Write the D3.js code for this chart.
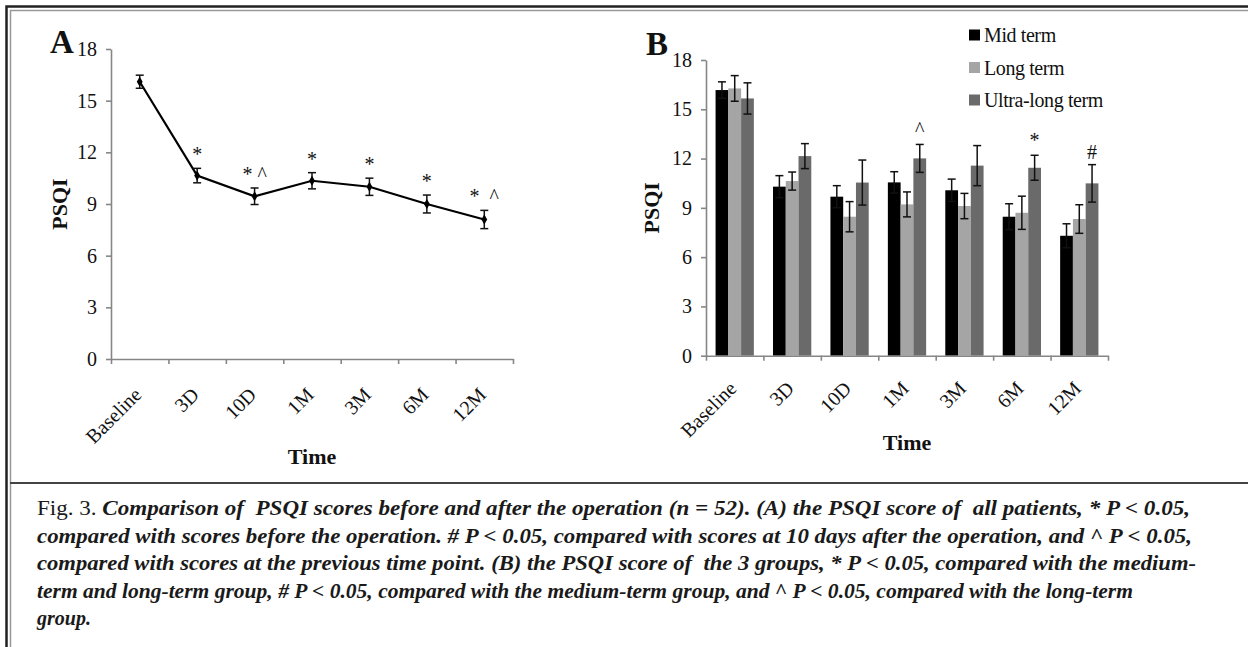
<!DOCTYPE html>
<html>
<head>
<meta charset="utf-8">
<script src="https://cdn.jsdelivr.net/npm/d3@7"></script>
<style>
  html, body { margin: 0; padding: 0; background: #fff; }
  svg { display: block; font-family: "Liberation Serif", "Times New Roman", serif; }
  .axis path, .axis line { stroke: #868686; stroke-width: 1.6; }
  .axis text { font-size: 20px; fill: #111; font-family: "Liberation Serif", serif; }
</style>
</head>
<body>
<svg id="fig" width="1248" height="647"></svg>
<script>
// PSQI scores, fig 3 (A: all patients, B: by group)

const times = ['Baseline', '3D', '10D', '1M', '3M', '6M', '12M'];
const yTicks = [0, 3, 6, 9, 12, 15, 18];

// panel A
const allMean = [16.1, 10.65, 9.45, 10.35, 10.0, 9.0, 8.1];
const allErr  = [0.38, 0.42, 0.48, 0.47, 0.5, 0.52, 0.53];
const allMarks = ['', '*', '* ^', '*', '*', '*', '*  ^'];

// panel B
const groups = ['Mid term', 'Long term', 'Ultra-long term'];
const midMean   = [16.17, 10.29, 9.68, 10.55, 10.07, 8.46, 7.3];
const midErr    = [0.5, 0.67, 0.67, 0.65, 0.68, 0.79, 0.73];
const longMean  = [16.27, 10.63, 8.46, 9.21, 9.11, 8.7, 8.32];
const longErr   = [0.78, 0.55, 0.92, 0.76, 0.77, 1.01, 0.87];
const ultraMean = [15.66, 12.15, 10.54, 12.01, 11.57, 11.44, 10.49];
const ultraErr  = [0.95, 0.76, 1.37, 0.85, 1.22, 0.76, 1.14];
const ultraMarks = ['', '', '', '^', '', '*', '#'];

const captionLines = [
  'Comparison of  PSQI scores before and after the operation (n = 52). (A) the PSQI score of  all patients, * P < 0.05,',
  'compared with scores before the operation. # P < 0.05, compared with scores at 10 days after the operation, and ^ P < 0.05,',
  'compared with scores at the previous time point. (B) the PSQI score of  the 3 groups, * P < 0.05, compared with the medium-',
  'term and long-term group, # P < 0.05, compared with the medium-term group, and ^ P < 0.05, compared with the long-term',
  'group.'
];

const svg = d3.select('#fig');

// frame
svg.append('path').attr('d', 'M6.5,647V6.5H1248').attr('fill', 'none').attr('stroke', '#222').attr('stroke-width', 2.5);
svg.append('path').attr('d', 'M10.5,647V10.5H1248').attr('fill', 'none').attr('stroke', '#999').attr('stroke-width', 1.5);
svg.append('line').attr('x1', 10).attr('x2', 1248).attr('y1', 483).attr('y2', 483)
  .attr('stroke', '#444').attr('stroke-width', 2);

function frame(g, x, y, opts) {
  const yAxis = d3.axisLeft(y).tickValues(yTicks).tickSize(5).tickSizeOuter(0).tickPadding(9);
  g.append('g').attr('class', 'axis').attr('transform', `translate(${x.range()[0]},0)`).call(yAxis);

  const edges = d3.scaleLinear().domain([0, times.length]).range(x.range());
  const xAxis = d3.axisBottom(edges).tickValues(d3.range(times.length + 1))
    .tickFormat('').tickSize(5).tickSizeOuter(0);
  g.append('g').attr('class', 'axis').attr('transform', `translate(0,${y(0)})`).call(xAxis);

  g.selectAll('.cat').data(times).join('text')
    .attr('class', 'cat')
    .attr('transform', (d) => `translate(${x(d) + x.bandwidth() / 2 + 3},${y(0) + opts.catDy}) rotate(-45)`)
    .attr('text-anchor', 'end')
    .attr('font-size', 20)
    .attr('fill', '#111')
    .text((d) => d);

  const cx = (x.range()[0] + x.range()[1]) / 2;
  g.append('text').attr('x', cx).attr('y', opts.timeY).attr('text-anchor', 'middle')
    .attr('font-size', 22).attr('font-weight', 'bold').attr('fill', '#111').text('Time');
  const cy = (y.range()[0] + y.range()[1]) / 2;
  g.append('text').attr('transform', `translate(${opts.psqiX},${cy}) rotate(-90)`)
    .attr('text-anchor', 'middle').attr('font-size', 22).attr('font-weight', 'bold')
    .attr('fill', '#111').text('PSQI');
  g.append('text').attr('x', opts.letterX).attr('y', opts.letterY)
    .attr('font-size', 33).attr('font-weight', 'bold').attr('fill', '#111').text(opts.letter);
}

// ---- panel A
const xA = d3.scaleBand().domain(times).range([111, 513]);
const yA = d3.scaleLinear().domain([0, 18]).range([359, 49]);
const gA = svg.append('g');
frame(gA, xA, yA, { timeY: 464, psqiX: 67, letterX: 50, letterY: 53, letter: 'A', catDy: 37 });

const ptsA = times.map((t, i) => ({ t, v: allMean[i], e: allErr[i], m: allMarks[i] }));
const cxA = (d) => xA(d.t) + xA.bandwidth() / 2;

gA.append('path').datum(ptsA)
  .attr('d', d3.line().x(cxA).y((d) => yA(d.v)))
  .attr('fill', 'none').attr('stroke', '#000').attr('stroke-width', 2.2);

const errA = gA.append('g').attr('stroke', '#111').attr('stroke-width', 1.5);
errA.selectAll('.v').data(ptsA).join('line')
  .attr('x1', cxA).attr('x2', cxA)
  .attr('y1', (d) => yA(d.v - d.e)).attr('y2', (d) => yA(d.v + d.e));
errA.selectAll('.c1').data(ptsA).join('line')
  .attr('x1', (d) => cxA(d) - 4).attr('x2', (d) => cxA(d) + 4)
  .attr('y1', (d) => yA(d.v + d.e)).attr('y2', (d) => yA(d.v + d.e));
errA.selectAll('.c2').data(ptsA).join('line')
  .attr('x1', (d) => cxA(d) - 4).attr('x2', (d) => cxA(d) + 4)
  .attr('y1', (d) => yA(d.v - d.e)).attr('y2', (d) => yA(d.v - d.e));

gA.selectAll('.pt').data(ptsA).join('path')
  .attr('d', d3.symbol(d3.symbolDiamond, 30))
  .attr('transform', (d) => `translate(${cxA(d)},${yA(d.v)})`)
  .attr('fill', '#000');

gA.selectAll('.mk').data(ptsA.filter((d) => d.m)).join('text')
  .attr('x', cxA).attr('y', (d) => yA(d.v + d.e) - 7)
  .attr('text-anchor', 'middle').attr('font-size', 20).attr('fill', '#111')
  .style('white-space', 'pre').text((d) => d.m);

// ---- panel B
const xB = d3.scaleBand().domain(times).range([706, 1108]).paddingInner(0).paddingOuter(0);
const yB = d3.scaleLinear().domain([0, 18]).range([355.7, 60]);
const gB = svg.append('g');

const colors = ['#000000', '#a5a5a5', '#6a6a6a'];
const series = [
  { name: groups[0], mean: midMean, err: midErr },
  { name: groups[1], mean: longMean, err: longErr },
  { name: groups[2], mean: ultraMean, err: ultraErr, marks: ultraMarks }
];
// group occupies 2/3 of the band (Excel gap width 50%)
const sub = d3.scaleBand().domain(groups)
  .range([xB.bandwidth() / 6, xB.bandwidth() * 5 / 6]);

series.forEach((s, si) => {
  const rows = times.map((t, i) => ({ t, v: s.mean[i], e: s.err[i], m: s.marks ? s.marks[i] : '' }));
  const bx = (d) => xB(d.t) + sub(s.name);
  const mx = (d) => bx(d) + sub.bandwidth() / 2;
  gB.append('g').selectAll('rect').data(rows).join('rect')
    .attr('x', bx).attr('width', sub.bandwidth())
    .attr('y', (d) => yB(d.v)).attr('height', (d) => yB(0) - yB(d.v))
    .attr('fill', colors[si]);
  const eg = gB.append('g').attr('stroke', '#111').attr('stroke-width', 1.5);
  eg.selectAll('.v').data(rows).join('line')
    .attr('x1', mx).attr('x2', mx)
    .attr('y1', (d) => yB(d.v - d.e)).attr('y2', (d) => yB(d.v + d.e));
  [1, -1].forEach((sgn) => {
    eg.selectAll('.c' + sgn).data(rows).join('line')
      .attr('x1', (d) => mx(d) - 4).attr('x2', (d) => mx(d) + 4)
      .attr('y1', (d) => yB(d.v + sgn * d.e)).attr('y2', (d) => yB(d.v + sgn * d.e));
  });
  gB.selectAll('.mk' + si).data(rows.filter((d) => d.m)).join('text')
    .attr('x', mx).attr('y', (d) => yB(d.v + d.e) - (d.m === '#' ? 6 : 8))
    .attr('text-anchor', 'middle').attr('font-size', 20).attr('fill', '#111')
    .text((d) => d.m);
});

frame(gB, xB, yB, { timeY: 450, psqiX: 659, letterX: 646, letterY: 55, letter: 'B', catDy: 34 });

// legend
const leg = gB.append('g').selectAll('g').data(groups).join('g')
  .attr('transform', (d, i) => `translate(969,${35 + i * 32.5})`);
leg.append('rect').attr('x', 0).attr('y', -5.5).attr('width', 11).attr('height', 11)
  .attr('fill', (d, i) => colors[i]);
leg.append('text').attr('x', 15).attr('y', 7).attr('font-size', 20).attr('fill', '#111')
  .attr('letter-spacing', -0.4).text((d) => d);

// caption
const cap = svg.append('g').attr('font-size', 20).attr('fill', '#1a1a1a').attr('font-weight', 'bold');
const lineEnds = [1190, 1192, 1196, 1133, null];
captionLines.forEach((ln, i) => {
  const t = cap.append('text').attr('x', 37).attr('y', 515 + i * 27.5).style('white-space', 'pre');
  if (i === 0) {
    t.append('tspan').attr('font-style', 'normal').attr('font-weight', 'normal').text('Fig. 3. ');
  }
  t.append('tspan').attr('font-style', 'italic').text(ln);
  if (lineEnds[i]) t.attr('textLength', lineEnds[i] - 37).attr('lengthAdjust', 'spacingAndGlyphs');
});
</script>
</body>
</html>
